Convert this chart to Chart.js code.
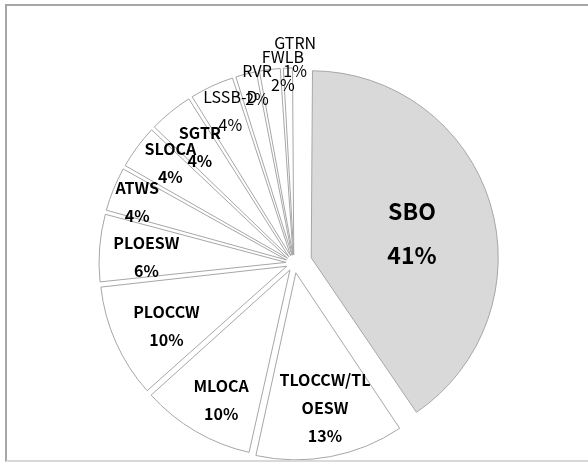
<!DOCTYPE html>
<html>
<head>
<meta charset="utf-8">
<script src="https://cdn.jsdelivr.net/npm/chart.js@4"></script>
<style>
  html, body { margin: 0; padding: 0; background: #fff; }
  #wrap { position: relative; width: 588px; height: 462px; overflow: hidden; }
  #pieChart { display: block; }
  #frame {
    position: absolute; left: 5px; top: 4px; width: 600px; height: 454px;
    border-left: 2px solid #a6a6a6; border-top: 2px solid #a6a6a6; border-bottom: 2px solid #d9d9d9;
    pointer-events: none;
  }
</style>
</head>
<body>
<div id="wrap">
  <canvas id="pieChart" width="588" height="462"></canvas>
  <div id="frame"></div>
</div>
<script>
// data, clockwise from 12 o'clock
const categories = ['SBO', 'TLOCCW/TLOESW', 'MLOCA', 'PLOCCW', 'PLOESW', 'ATWS', 'SLOCA', 'SGTR', 'LSSB-D', 'RVR', 'FWLB', 'GTRN'];
const shares = [41, 13, 10, 10, 6, 4, 4, 4, 4, 2, 2, 1];

// look of each slice
const sliceFill = ['#d9d9d9', '#fff', '#fff', '#fff', '#fff', '#fff', '#fff', '#fff', '#fff', '#fff', '#fff', '#fff'];
// how far each slice is pulled out (px)
const slicePull = [18, 10, 8, 8, 8, 8, 8, 8, 8, 8, 8, 8];

// where each data label sits: share of radius and a small turn (deg) from the slice middle
const labelDist = [0.65, 0.79, 0.83, 0.76, 0.79, 0.90, 0.85, 0.80, 0.88, 0.97, 1.03, 1.10];
const labelTurn = [3, -1.4, -2.3, -2.1, -2.2, -0.9, 2.4, 0.2, 2.2, 2.5, 3.8, 2.1];
const labelBold = [true, true, true, true, true, true, true, true, false, false, false, false];

const PIE_R = 187;
const FONT = "'Noto Sans CJK KR', 'Noto Sans', sans-serif";

function wrapName(name) {
  // excel wrapped the long name inside the slice
  const out = [];
  for (let i = 0; i < name.length; i += 9) out.push(name.slice(i, i + 9));
  return out;
}

// chart.js moves an arc by offset/4 and also grows it a bit, undo the growth
const keepRadius = {
  id: 'keepRadius',
  beforeDatasetsDraw(chart) {
    chart.getDatasetMeta(0).data.forEach((arc, i) => {
      const fix = 1 - Math.sin(Math.min(Math.PI, arc.circumference));
      arc.outerRadius = PIE_R - slicePull[i] * fix;
    });
  }
};

const sliceLabels = {
  id: 'sliceLabels',
  afterDatasetsDraw(chart) {
    const ctx = chart.ctx;
    const meta = chart.getDatasetMeta(0);

    ctx.save();
    ctx.fillStyle = '#000';
    ctx.textAlign = 'center';
    ctx.textBaseline = 'middle';

    meta.data.forEach((arc, i) => {
      const { x, y, startAngle, endAngle } = arc;
      const mid = (startAngle + endAngle) / 2 + labelTurn[i] * Math.PI / 180;
      const r = PIE_R * labelDist[i];
      const cx = x + Math.cos(mid) * r;
      const cy = y + Math.sin(mid) * r;

      const big = i === 0;
      const size = big ? 23 : 16;
      const gap = big ? 44 : 28;
      ctx.font = (labelBold[i] ? 'bold ' : '') + size + 'px ' + FONT;

      const lines = wrapName(categories[i]).concat(shares[i] + '%');
      lines.forEach((t, k) => {
        ctx.fillText(t, cx, cy + (k - (lines.length - 1) / 2) * gap);
      });
    });

    ctx.restore();
  }
};

new Chart(document.getElementById('pieChart'), {
  type: 'pie',
  data: {
    labels: categories,
    datasets: [
      {
        data: shares,
        backgroundColor: sliceFill,
        borderColor: '#a6a6a6',
        borderWidth: 1,
        offset: slicePull.map(p => p * 4),
        clip: false
      }
    ]
  },
  options: {
    responsive: false,
    animation: false,
    radius: PIE_R,
    layout: { padding: { top: 64, bottom: 0, left: 0, right: 0 } },
    plugins: {
      legend: { display: false },
      tooltip: { enabled: false }
    }
  },
  plugins: [keepRadius, sliceLabels]
});
</script>
</body>
</html>
